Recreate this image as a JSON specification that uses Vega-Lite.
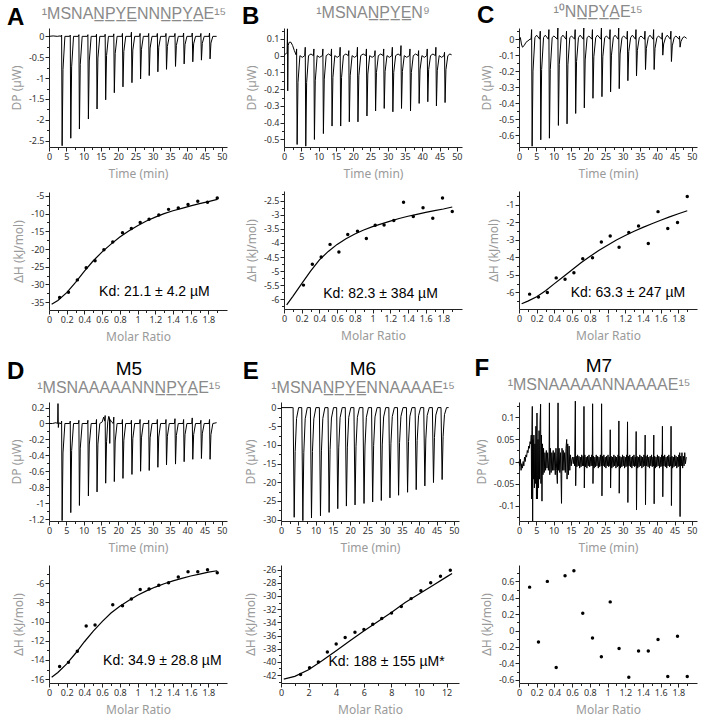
{
"$schema": "https://vega.github.io/schema/vega-lite/v6.json",
"padding": {"left": 7, "top": 4, "right": 2, "bottom": 2},
"background": "white",
"config": {
 "view": {"stroke": null},
 "axis": {"domainColor": "#222", "tickColor": "#222", "labelColor": "#333", "labelFont": "Noto Sans", "labelFontSize": 9, "labelPadding": 1, "titleFont": "Noto Sans", "titleFontSize": 12, "titleFontWeight": "normal", "titleColor": "#9a9a9a", "grid": false, "labelFlush": false, "labelOverlap": false, "tickWidth": 1, "domainWidth": 1},
 "axisX": {"titlePadding": 7},
 "axisY": {"titlePadding": 5}
},
"datasets": {
 "tA": [{"t":0,"v":0},{"t":1.2,"v":0.01},{"t":2.4,"v":0},{"t":3.2,"v":0.01},
{"t":3.5,"v":0},{"t":3.65,"v":0.03},{"t":3.8,"v":-2.62},{"t":4.05,"v":-0.79},{"t":4.6,"v":0},
{"t":6.0,"v":0},{"t":6.15,"v":0.03},{"t":6.3,"v":-2.44},{"t":6.55,"v":-0.73},{"t":7.1,"v":0},
{"t":8.5,"v":0},{"t":8.65,"v":0.04},{"t":8.8,"v":-2.22},{"t":9.05,"v":-0.67},{"t":9.6,"v":0},
{"t":11.1,"v":0},{"t":11.25,"v":0.04},{"t":11.4,"v":-1.98},{"t":11.65,"v":-0.59},{"t":12.2,"v":0},
{"t":13.6,"v":0},{"t":13.75,"v":0.05},{"t":13.9,"v":-1.74},{"t":14.15,"v":-0.52},{"t":14.7,"v":0},
{"t":16.1,"v":0},{"t":16.25,"v":0.05},{"t":16.4,"v":-1.52},{"t":16.65,"v":-0.46},{"t":17.2,"v":0},
{"t":18.6,"v":0},{"t":18.75,"v":0.06},{"t":18.9,"v":-1.35},{"t":19.15,"v":-0.41},{"t":19.7,"v":0},
{"t":21.1,"v":0},{"t":21.25,"v":0.07},{"t":21.4,"v":-1.21},{"t":21.65,"v":-0.36},{"t":22.2,"v":0},
{"t":23.7,"v":0},{"t":23.85,"v":0.1},{"t":24.0,"v":-1.11},{"t":24.25,"v":-0.33},{"t":24.8,"v":0},
{"t":26.2,"v":0},{"t":26.35,"v":0.07},{"t":26.5,"v":-1.02},{"t":26.75,"v":-0.31},{"t":27.3,"v":0},
{"t":28.7,"v":0},{"t":28.85,"v":0.07},{"t":29.0,"v":-0.94},{"t":29.25,"v":-0.28},{"t":29.8,"v":0},
{"t":31.2,"v":0},{"t":31.35,"v":0.07},{"t":31.5,"v":-0.85},{"t":31.75,"v":-0.26},{"t":32.3,"v":0},
{"t":33.7,"v":0},{"t":33.85,"v":0.07},{"t":34.0,"v":-0.79},{"t":34.25,"v":-0.24},{"t":34.8,"v":0},
{"t":36.3,"v":0},{"t":36.45,"v":0.07},{"t":36.6,"v":-0.72},{"t":36.85,"v":-0.22},{"t":37.4,"v":0},
{"t":38.8,"v":0},{"t":38.95,"v":0.08},{"t":39.1,"v":-0.66},{"t":39.35,"v":-0.2},{"t":39.9,"v":0},
{"t":41.3,"v":0},{"t":41.45,"v":0.08},{"t":41.6,"v":-0.61},{"t":41.85,"v":-0.18},{"t":42.4,"v":0},
{"t":43.8,"v":0},{"t":43.95,"v":0.07},{"t":44.1,"v":-0.57},{"t":44.35,"v":-0.17},{"t":44.9,"v":0},
{"t":46.3,"v":0},{"t":46.45,"v":0.08},{"t":46.6,"v":-0.54},{"t":46.85,"v":-0.16},{"t":47.4,"v":0},
{"t":48.5,"v":0}],
 "tB": [{"t":0,"v":0},{"t":0.5,"v":0.01},{"t":0.9,"v":0.02},{"t":1.0,"v":0.16},{"t":1.08,"v":-0.21},{"t":1.2,"v":0.06},{"t":1.5,"v":0.08},{"t":2.0,"v":0.08},{"t":2.5,"v":0.06},{"t":3.0,"v":0.03},{"t":3.4,"v":0.01},
{"t":3.5,"v":0.005},{"t":3.65,"v":0.04},{"t":3.8,"v":-0.53},{"t":4.05,"v":-0.16},{"t":4.6,"v":0},{"t":5.3,"v":-0.01},
{"t":6.0,"v":0},{"t":6.15,"v":0.05},{"t":6.3,"v":-0.54},{"t":6.55,"v":-0.16},{"t":7.1,"v":0},{"t":7.8,"v":0.01},
{"t":8.5,"v":0},{"t":8.65,"v":0.04},{"t":8.8,"v":-0.5},{"t":9.05,"v":-0.15},{"t":9.6,"v":0},{"t":10.3,"v":-0.01},
{"t":11.1,"v":0},{"t":11.25,"v":0.04},{"t":11.4,"v":-0.465},{"t":11.65,"v":-0.14},{"t":12.2,"v":0},{"t":12.9,"v":0.01},
{"t":13.6,"v":0},{"t":13.75,"v":0.04},{"t":13.9,"v":-0.42},{"t":14.15,"v":-0.13},{"t":14.7,"v":0},{"t":15.4,"v":-0.01},
{"t":16.1,"v":0},{"t":16.25,"v":0.05},{"t":16.4,"v":-0.42},{"t":16.65,"v":-0.13},{"t":17.2,"v":0},{"t":17.9,"v":0.01},
{"t":18.6,"v":0},{"t":18.75,"v":0.03},{"t":18.9,"v":-0.395},{"t":19.15,"v":-0.12},{"t":19.7,"v":0},{"t":20.4,"v":-0.01},
{"t":21.1,"v":0},{"t":21.25,"v":0.05},{"t":21.4,"v":-0.395},{"t":21.65,"v":-0.12},{"t":22.2,"v":0},{"t":22.9,"v":0.01},
{"t":23.7,"v":0},{"t":23.85,"v":0.04},{"t":24.0,"v":-0.36},{"t":24.25,"v":-0.11},{"t":24.8,"v":0},{"t":25.5,"v":-0.01},
{"t":26.2,"v":0},{"t":26.35,"v":0.03},{"t":26.5,"v":-0.33},{"t":26.75,"v":-0.1},{"t":27.3,"v":0},{"t":28.0,"v":0.01},
{"t":28.7,"v":0},{"t":28.85,"v":0.04},{"t":29.0,"v":-0.315},{"t":29.25,"v":-0.095},{"t":29.8,"v":0},{"t":30.5,"v":-0.01},
{"t":31.2,"v":0},{"t":31.35,"v":0.05},{"t":31.5,"v":-0.335},{"t":31.75,"v":-0.1},{"t":32.3,"v":0},{"t":33.0,"v":0.01},
{"t":33.7,"v":0},{"t":33.85,"v":0.06},{"t":34.0,"v":-0.315},{"t":34.25,"v":-0.095},{"t":34.8,"v":0},{"t":35.5,"v":-0.01},
{"t":36.3,"v":0},{"t":36.45,"v":0.04},{"t":36.6,"v":-0.33},{"t":36.85,"v":-0.1},{"t":37.4,"v":0},{"t":38.1,"v":0.01},
{"t":38.8,"v":0},{"t":38.95,"v":0.03},{"t":39.1,"v":-0.285},{"t":39.35,"v":-0.085},{"t":39.9,"v":0},{"t":40.6,"v":-0.01},
{"t":41.3,"v":0},{"t":41.45,"v":0.04},{"t":41.6,"v":-0.275},{"t":41.85,"v":-0.083},{"t":42.4,"v":0},{"t":43.1,"v":0.01},
{"t":43.8,"v":0},{"t":43.95,"v":0.05},{"t":44.1,"v":-0.3},{"t":44.35,"v":-0.09},{"t":44.9,"v":0},{"t":45.6,"v":-0.01},
{"t":46.3,"v":0},{"t":46.45,"v":0.02},{"t":46.6,"v":-0.28},{"t":46.85,"v":-0.084},{"t":47.4,"v":0},{"t":48.0,"v":0.01},
{"t":48.5,"v":0.005}],
 "tC": [{"t":0,"v":0},{"t":0.4,"v":0.01},{"t":0.7,"v":-0.03},{"t":1.0,"v":-0.05},{"t":1.5,"v":-0.04},{"t":2.0,"v":-0.02},{"t":2.6,"v":-0.01},{"t":3.2,"v":0},
{"t":3.5,"v":0},{"t":3.65,"v":0.06},{"t":3.8,"v":-0.67},{"t":4.05,"v":-0.2},{"t":4.6,"v":0.01},{"t":5.1,"v":0.025},
{"t":6.0,"v":0},{"t":6.15,"v":0.05},{"t":6.3,"v":-0.63},{"t":6.55,"v":-0.19},{"t":7.1,"v":0.01},{"t":7.6,"v":0.025},
{"t":8.5,"v":0},{"t":8.65,"v":0.06},{"t":8.8,"v":-0.62},{"t":9.05,"v":-0.19},{"t":9.6,"v":0.01},{"t":10.1,"v":0.02},
{"t":11.1,"v":0},{"t":11.25,"v":0.07},{"t":11.4,"v":-0.54},{"t":11.65,"v":-0.16},{"t":12.2,"v":0.01},{"t":12.7,"v":0.025},
{"t":13.6,"v":0},{"t":13.75,"v":0.05},{"t":13.9,"v":-0.53},{"t":14.15,"v":-0.16},{"t":14.7,"v":0.01},{"t":15.2,"v":0.02},
{"t":16.1,"v":0},{"t":16.25,"v":0.06},{"t":16.4,"v":-0.465},{"t":16.65,"v":-0.14},{"t":17.2,"v":0.01},{"t":17.7,"v":0.025},
{"t":18.6,"v":0},{"t":18.75,"v":0.07},{"t":18.9,"v":-0.43},{"t":19.15,"v":-0.13},{"t":19.7,"v":0.01},{"t":20.2,"v":0.02},
{"t":21.1,"v":0},{"t":21.25,"v":0.06},{"t":21.4,"v":-0.37},{"t":21.65,"v":-0.11},{"t":22.2,"v":0.01},{"t":22.7,"v":0.025},
{"t":23.7,"v":0},{"t":23.85,"v":0.07},{"t":24.0,"v":-0.36},{"t":24.25,"v":-0.11},{"t":24.8,"v":0.01},{"t":25.3,"v":0.02},
{"t":26.2,"v":0},{"t":26.35,"v":0.06},{"t":26.5,"v":-0.33},{"t":26.75,"v":-0.1},{"t":27.3,"v":0.01},{"t":27.8,"v":0.025},
{"t":28.7,"v":0},{"t":28.85,"v":0.07},{"t":29.0,"v":-0.31},{"t":29.25,"v":-0.093},{"t":29.8,"v":0.01},{"t":30.3,"v":0.02},
{"t":31.2,"v":0},{"t":31.35,"v":0.05},{"t":31.5,"v":-0.26},{"t":31.75,"v":-0.078},{"t":32.3,"v":0.01},{"t":32.8,"v":0.025},
{"t":33.7,"v":0},{"t":33.85,"v":0.06},{"t":34.0,"v":-0.23},{"t":34.25,"v":-0.07},{"t":34.8,"v":0.01},{"t":35.3,"v":0.02},
{"t":36.3,"v":0},{"t":36.45,"v":0.05},{"t":36.6,"v":-0.19},{"t":36.85,"v":-0.057},{"t":37.4,"v":0.01},{"t":37.9,"v":0.025},
{"t":38.8,"v":0},{"t":38.95,"v":0.06},{"t":39.1,"v":-0.19},{"t":39.35,"v":-0.057},{"t":39.9,"v":0.01},{"t":40.4,"v":0.02},
{"t":41.3,"v":0},{"t":41.45,"v":0.04},{"t":41.6,"v":-0.1},{"t":41.85,"v":-0.03},{"t":42.4,"v":0.01},{"t":42.9,"v":0.025},
{"t":43.8,"v":0},{"t":43.95,"v":0.05},{"t":44.1,"v":-0.14},{"t":44.35,"v":-0.042},{"t":44.9,"v":0.01},{"t":45.4,"v":0.02},
{"t":46.3,"v":0},{"t":46.45,"v":0.02},{"t":46.6,"v":-0.05},{"t":46.85,"v":-0.015},{"t":47.4,"v":0.01},{"t":47.9,"v":0.015},
{"t":48.5,"v":0.005}],
 "tD": [{"t":0,"v":0},{"t":1.0,"v":0},{"t":2.0,"v":0.01},{"t":2.5,"v":0},{"t":2.6,"v":0.25},{"t":2.7,"v":-0.05},{"t":2.85,"v":0.01},{"t":3.2,"v":0},
{"t":3.5,"v":0},{"t":3.65,"v":0.03},{"t":3.8,"v":-1.22},{"t":4.05,"v":-0.37},{"t":4.6,"v":0},
{"t":6.0,"v":0},{"t":6.15,"v":0.03},{"t":6.3,"v":-1.12},{"t":6.55,"v":-0.34},{"t":7.1,"v":0},
{"t":8.5,"v":0},{"t":8.65,"v":0.04},{"t":8.8,"v":-1.03},{"t":9.05,"v":-0.31},{"t":9.6,"v":0},
{"t":11.1,"v":0},{"t":11.25,"v":0.04},{"t":11.4,"v":-0.91},{"t":11.65,"v":-0.27},{"t":12.2,"v":0},
{"t":13.6,"v":0},{"t":13.75,"v":0.05},{"t":13.9,"v":-0.86},{"t":14.15,"v":-0.26},{"t":14.7,"v":0},
{"t":15.4,"v":0.02},{"t":15.8,"v":0.08},{"t":16.0,"v":0.05},
{"t":16.1,"v":0.03},{"t":16.25,"v":0.1},{"t":16.4,"v":-0.75},{"t":16.65,"v":-0.23},{"t":17.0,"v":0.02},{"t":17.3,"v":0.09},{"t":17.5,"v":0.07},{"t":17.58,"v":-0.25},{"t":17.68,"v":0.05},{"t":18.1,"v":0.02},
{"t":18.6,"v":0},{"t":18.75,"v":0.08},{"t":18.9,"v":-0.73},{"t":19.15,"v":-0.22},{"t":19.7,"v":0},
{"t":21.1,"v":0},{"t":21.25,"v":0.05},{"t":21.4,"v":-0.69},{"t":21.65,"v":-0.21},{"t":22.2,"v":0},
{"t":23.7,"v":0},{"t":23.85,"v":0.04},{"t":24.0,"v":-0.64},{"t":24.25,"v":-0.19},{"t":24.8,"v":0},
{"t":26.2,"v":0},{"t":26.35,"v":0.05},{"t":26.5,"v":-0.6},{"t":26.75,"v":-0.18},{"t":27.3,"v":0},
{"t":28.7,"v":0},{"t":28.85,"v":0.04},{"t":29.0,"v":-0.59},{"t":29.25,"v":-0.18},{"t":29.8,"v":0},
{"t":31.2,"v":0},{"t":31.35,"v":0.05},{"t":31.5,"v":-0.55},{"t":31.75,"v":-0.17},{"t":32.3,"v":0},
{"t":33.7,"v":0},{"t":33.85,"v":0.05},{"t":34.0,"v":-0.52},{"t":34.25,"v":-0.16},{"t":34.8,"v":0},
{"t":36.3,"v":0},{"t":36.45,"v":0.06},{"t":36.6,"v":-0.51},{"t":36.85,"v":-0.15},{"t":37.4,"v":0},
{"t":38.8,"v":0},{"t":38.95,"v":0.05},{"t":39.1,"v":-0.48},{"t":39.35,"v":-0.14},{"t":39.9,"v":0},
{"t":41.3,"v":0},{"t":41.45,"v":0.07},{"t":41.6,"v":-0.45},{"t":41.85,"v":-0.14},{"t":42.4,"v":0},
{"t":43.8,"v":0},{"t":43.95,"v":0.04},{"t":44.1,"v":-0.44},{"t":44.35,"v":-0.13},{"t":44.9,"v":0},
{"t":46.3,"v":0},{"t":46.45,"v":0.05},{"t":46.6,"v":-0.45},{"t":46.85,"v":-0.14},{"t":47.4,"v":0},
{"t":48.5,"v":0.01}],
 "tE": [{"t":0,"v":0},{"t":3.4,"v":0},
{"t":3.5,"v":0},{"t":3.82,"v":-29.4},{"t":4.1,"v":-11.8},{"t":4.5,"v":-2.9},{"t":5.1,"v":0},
{"t":6.0,"v":0},{"t":6.32,"v":-30.3},{"t":6.6,"v":-12.1},{"t":7.0,"v":-3.0},{"t":7.6,"v":0},
{"t":8.5,"v":0},{"t":8.82,"v":-29.6},{"t":9.1,"v":-11.8},{"t":9.5,"v":-3.0},{"t":10.1,"v":0},
{"t":11.1,"v":0},{"t":11.42,"v":-29.0},{"t":11.7,"v":-11.6},{"t":12.1,"v":-2.9},{"t":12.7,"v":0},
{"t":13.6,"v":0},{"t":13.92,"v":-28.1},{"t":14.2,"v":-11.2},{"t":14.6,"v":-2.8},{"t":15.2,"v":0},
{"t":16.1,"v":0},{"t":16.42,"v":-27.1},{"t":16.7,"v":-10.8},{"t":17.1,"v":-2.7},{"t":17.7,"v":0},
{"t":18.6,"v":0},{"t":18.92,"v":-26.4},{"t":19.2,"v":-10.6},{"t":19.6,"v":-2.6},{"t":20.2,"v":0},
{"t":21.1,"v":0},{"t":21.42,"v":-26.1},{"t":21.7,"v":-10.4},{"t":22.1,"v":-2.6},{"t":22.7,"v":0},
{"t":23.7,"v":0},{"t":24.02,"v":-25.7},{"t":24.3,"v":-10.3},{"t":24.7,"v":-2.6},{"t":25.3,"v":0},
{"t":26.2,"v":0},{"t":26.52,"v":-25.3},{"t":26.8,"v":-10.1},{"t":27.2,"v":-2.5},{"t":27.8,"v":0},
{"t":28.7,"v":0},{"t":29.02,"v":-24.9},{"t":29.3,"v":-10.0},{"t":29.7,"v":-2.5},{"t":30.3,"v":0},
{"t":31.2,"v":0},{"t":31.52,"v":-24.2},{"t":31.8,"v":-9.7},{"t":32.2,"v":-2.4},{"t":32.8,"v":0},
{"t":33.7,"v":0},{"t":34.02,"v":-23.5},{"t":34.3,"v":-9.4},{"t":34.7,"v":-2.35},{"t":35.3,"v":0},
{"t":36.3,"v":0},{"t":36.62,"v":-22.7},{"t":36.9,"v":-9.1},{"t":37.3,"v":-2.3},{"t":37.9,"v":0},
{"t":38.8,"v":0},{"t":39.12,"v":-22.0},{"t":39.4,"v":-8.8},{"t":39.8,"v":-2.2},{"t":40.4,"v":0},
{"t":41.3,"v":0},{"t":41.62,"v":-21.0},{"t":41.9,"v":-8.4},{"t":42.3,"v":-2.1},{"t":42.9,"v":0},
{"t":43.8,"v":0},{"t":44.12,"v":-20.1},{"t":44.4,"v":-8.0},{"t":44.8,"v":-2.0},{"t":45.4,"v":0},
{"t":46.3,"v":0},{"t":46.62,"v":-19.3},{"t":46.9,"v":-7.7},{"t":47.3,"v":-1.9},{"t":47.9,"v":0},
{"t":48.5,"v":0}],
 "tF": [{"t":0,"v":0},{"t":0.2,"v":-0.01},{"t":0.4,"v":0.005},{"t":0.6,"v":-0.02},{"t":0.8,"v":-0.005},{"t":1.0,"v":-0.015},{"t":1.2,"v":0},{"t":1.4,"v":-0.01},{"t":1.6,"v":0.01},{"t":1.8,"v":0},{"t":2.0,"v":0.015},{"t":2.2,"v":0.01},{"t":2.4,"v":0.025},{"t":2.6,"v":0.02},{"t":2.8,"v":0.035},{"t":3.0,"v":0.03},{"t":3.2,"v":0.045},{"t":3.4,"v":0.04},{"t":3.55,"v":0.06},{"t":3.65,"v":-0.085},{"t":3.75,"v":0.07},{"t":3.85,"v":0.125},{"t":3.95,"v":-0.135},{"t":4.05,"v":0.05},{"t":4.15,"v":-0.04},{"t":4.3,"v":0.06},{"t":4.45,"v":-0.06},{"t":4.6,"v":0.04},{"t":4.75,"v":-0.05},{"t":4.9,"v":0.08},{"t":5.05,"v":-0.085},{"t":5.2,"v":0.11},{"t":5.35,"v":-0.085},{"t":5.5,"v":0.05},{"t":5.65,"v":-0.06},{"t":5.8,"v":0.07},{"t":5.95,"v":-0.04},{"t":6.1,"v":0.09},{"t":6.25,"v":0.13},{"t":6.35,"v":-0.05},{"t":6.5,"v":0.06},{"t":6.65,"v":-0.09},{"t":6.8,"v":0.04},{"t":6.95,"v":-0.03},{"t":7.1,"v":0.03},{"t":7.3,"v":-0.025},{"t":7.5,"v":0.02},{"t":7.7,"v":-0.02},{"t":7.9,"v":0.025},{"t":8.1,"v":-0.015},{"t":8.3,"v":0.02},{"t":8.5,"v":-0.02},{"t":8.7,"v":0.01},{"t":8.8,"v":0.133},{"t":8.9,"v":-0.03},{"t":9.1,"v":0.03},{"t":9.3,"v":-0.025},{"t":9.5,"v":0.02},{"t":9.7,"v":-0.02},{"t":9.9,"v":0.025},{"t":10.1,"v":-0.02},{"t":10.3,"v":0.02},{"t":10.5,"v":-0.03},{"t":10.7,"v":0.03},{"t":10.9,"v":-0.02},{"t":11.1,"v":-0.05},{"t":11.3,"v":0.133},{"t":11.4,"v":-0.02},{"t":11.6,"v":0.03},{"t":11.8,"v":-0.025},{"t":12.0,"v":0.02},{"t":12.15,"v":-0.03},{"t":12.3,"v":-0.095},{"t":12.45,"v":0.03},{"t":12.6,"v":-0.02},{"t":12.8,"v":0.025},{"t":13.0,"v":-0.02},{"t":13.2,"v":0.02},{"t":13.4,"v":-0.025},{"t":13.6,"v":0.03},{"t":13.8,"v":0.05},{"t":13.9,"v":-0.04},{"t":14.1,"v":0.04},{"t":14.3,"v":-0.03},{"t":14.5,"v":0.035},{"t":14.7,"v":-0.02},{"t":14.9,"v":0.015},{"t":15.1,"v":-0.01},{"t":15.3,"v":0.005},{"t":15.5,"v":0.01},{"t":15.7,"v":-0.005},{"t":15.9,"v":0.01},{"t":16.1,"v":-0.01},
{"t":16.3,"v":0.137},{"t":16.4,"v":-0.055},{"t":16.55,"v":0.012},{"t":16.75,"v":-0.012},{"t":16.95,"v":0.015},{"t":17.15,"v":-0.01},{"t":17.35,"v":0.012},{"t":17.55,"v":-0.015},{"t":17.75,"v":0.01},{"t":17.95,"v":-0.012},{"t":18.15,"v":0.015},{"t":18.35,"v":-0.01},{"t":18.55,"v":0.012},{"t":18.7,"v":-0.01},
{"t":18.8,"v":0.125},{"t":18.9,"v":-0.06},{"t":19.05,"v":0.015},{"t":19.25,"v":-0.012},{"t":19.45,"v":0.01},{"t":19.65,"v":-0.015},{"t":19.85,"v":0.012},{"t":20.05,"v":-0.01},{"t":20.25,"v":0.015},{"t":20.45,"v":-0.012},{"t":20.65,"v":0.01},{"t":20.85,"v":-0.01},{"t":21.05,"v":0.015},{"t":21.2,"v":-0.01},
{"t":21.3,"v":0.131},{"t":21.4,"v":-0.05},{"t":21.55,"v":0.012},{"t":21.75,"v":-0.015},{"t":21.95,"v":0.01},{"t":22.15,"v":-0.012},{"t":22.35,"v":0.015},{"t":22.55,"v":-0.01},{"t":22.75,"v":0.012},{"t":22.95,"v":-0.015},{"t":23.15,"v":0.01},{"t":23.35,"v":-0.012},{"t":23.55,"v":0.015},{"t":23.8,"v":-0.01},
{"t":23.9,"v":0.131},{"t":24.0,"v":-0.078},{"t":24.15,"v":0.012},{"t":24.35,"v":-0.01},{"t":24.55,"v":0.015},{"t":24.75,"v":-0.012},{"t":24.95,"v":0.01},{"t":25.15,"v":-0.015},{"t":25.35,"v":0.012},{"t":25.55,"v":-0.01},{"t":25.75,"v":0.015},{"t":25.95,"v":-0.012},{"t":26.15,"v":0.01},{"t":26.3,"v":-0.01},
{"t":26.4,"v":0.072},{"t":26.5,"v":-0.06},{"t":26.65,"v":0.012},{"t":26.85,"v":-0.015},{"t":27.05,"v":0.01},{"t":27.25,"v":-0.012},{"t":27.45,"v":0.015},{"t":27.65,"v":-0.01},{"t":27.85,"v":0.012},{"t":28.05,"v":-0.015},{"t":28.25,"v":0.01},{"t":28.45,"v":-0.012},{"t":28.65,"v":0.015},{"t":28.8,"v":-0.01},
{"t":28.9,"v":0.092},{"t":29.0,"v":-0.072},{"t":29.15,"v":0.012},{"t":29.35,"v":-0.015},{"t":29.55,"v":0.01},{"t":29.75,"v":-0.012},{"t":29.95,"v":0.015},{"t":30.15,"v":-0.01},{"t":30.35,"v":0.012},{"t":30.55,"v":-0.015},{"t":30.75,"v":0.01},{"t":30.95,"v":-0.012},{"t":31.15,"v":0.015},{"t":31.3,"v":-0.01},
{"t":31.4,"v":0.09},{"t":31.5,"v":-0.093},{"t":31.65,"v":0.012},{"t":31.85,"v":-0.01},{"t":32.05,"v":0.015},{"t":32.25,"v":-0.012},{"t":32.45,"v":0.01},{"t":32.65,"v":-0.015},{"t":32.85,"v":0.012},{"t":33.05,"v":-0.01},{"t":33.25,"v":0.015},{"t":33.45,"v":-0.012},{"t":33.65,"v":0.01},{"t":33.8,"v":-0.01},
{"t":33.9,"v":0.068},{"t":34.0,"v":-0.11},{"t":34.15,"v":0.012},{"t":34.35,"v":-0.015},{"t":34.55,"v":0.01},{"t":34.75,"v":-0.012},{"t":34.95,"v":0.015},{"t":35.15,"v":-0.01},{"t":35.35,"v":0.012},{"t":35.55,"v":-0.015},{"t":35.75,"v":0.01},{"t":35.95,"v":-0.012},{"t":36.15,"v":0.015},{"t":36.4,"v":-0.01},
{"t":36.5,"v":0.06},{"t":36.6,"v":-0.098},{"t":36.75,"v":0.012},{"t":36.95,"v":-0.01},{"t":37.15,"v":0.015},{"t":37.35,"v":-0.012},{"t":37.55,"v":0.01},{"t":37.75,"v":-0.015},{"t":37.95,"v":0.012},{"t":38.15,"v":-0.01},{"t":38.35,"v":0.015},{"t":38.55,"v":-0.012},{"t":38.75,"v":0.01},{"t":38.9,"v":-0.01},
{"t":39.0,"v":0.06},{"t":39.1,"v":-0.096},{"t":39.25,"v":0.012},{"t":39.45,"v":-0.015},{"t":39.65,"v":0.01},{"t":39.85,"v":-0.012},{"t":40.05,"v":0.015},{"t":40.25,"v":-0.01},{"t":40.45,"v":0.012},{"t":40.65,"v":-0.015},{"t":40.85,"v":0.01},{"t":41.05,"v":-0.012},{"t":41.25,"v":0.015},{"t":41.4,"v":-0.01},
{"t":41.5,"v":0.08},{"t":41.6,"v":-0.08},{"t":41.75,"v":0.012},{"t":41.95,"v":-0.01},{"t":42.15,"v":0.015},{"t":42.35,"v":-0.012},{"t":42.55,"v":0.01},{"t":42.75,"v":-0.015},{"t":42.95,"v":0.012},{"t":43.15,"v":-0.01},{"t":43.35,"v":0.015},{"t":43.55,"v":-0.012},{"t":43.75,"v":0.01},{"t":43.9,"v":-0.01},
{"t":44.0,"v":0.08},{"t":44.1,"v":-0.1},{"t":44.25,"v":0.012},{"t":44.45,"v":-0.015},{"t":44.65,"v":0.01},{"t":44.85,"v":-0.012},{"t":45.05,"v":0.015},{"t":45.25,"v":-0.01},{"t":45.45,"v":0.012},{"t":45.65,"v":-0.015},{"t":45.85,"v":0.01},{"t":46.05,"v":-0.012},{"t":46.25,"v":0.015},{"t":46.4,"v":-0.01},
{"t":46.5,"v":0.02},{"t":46.6,"v":-0.125},{"t":46.75,"v":0.012},{"t":46.95,"v":-0.01},{"t":47.15,"v":0.02},{"t":47.35,"v":-0.015},{"t":47.55,"v":0.012},{"t":47.75,"v":-0.01},{"t":47.95,"v":0.02},{"t":48.15,"v":-0.005},{"t":48.4,"v":0.01}],
 "pA": [{"x":0.12,"y":-33.7},{"x":0.22,"y":-32.2},{"x":0.32,"y":-28.7},{"x":0.42,"y":-25.3},{"x":0.52,"y":-23.3},{"x":0.62,"y":-20.2},{"x":0.72,"y":-18.0},{"x":0.83,"y":-15.4},{"x":0.93,"y":-14.2},{"x":1.03,"y":-12.5},{"x":1.13,"y":-11.6},{"x":1.24,"y":-10.4},{"x":1.35,"y":-8.8},{"x":1.46,"y":-8.4},{"x":1.57,"y":-7.4},{"x":1.68,"y":-6.5},{"x":1.79,"y":-6.8},{"x":1.9,"y":-5.6}],
 "cA": [{"x":0.03,"y":-35.6},{"x":0.1,"y":-34.5},{"x":0.2,"y":-32.3},{"x":0.3,"y":-29.4},{"x":0.4,"y":-26.2},{"x":0.5,"y":-23.3},{"x":0.6,"y":-20.8},{"x":0.7,"y":-18.6},{"x":0.8,"y":-16.6},{"x":0.9,"y":-14.9},{"x":1.0,"y":-13.4},{"x":1.1,"y":-12.1},{"x":1.2,"y":-11.0},{"x":1.3,"y":-10.0},{"x":1.4,"y":-9.2},{"x":1.5,"y":-8.5},{"x":1.6,"y":-7.8},{"x":1.7,"y":-7.2},{"x":1.8,"y":-6.6},{"x":1.9,"y":-6.0}],
 "pB": [{"x":0.22,"y":-5.5},{"x":0.32,"y":-4.76},{"x":0.42,"y":-4.5},{"x":0.52,"y":-4.05},{"x":0.62,"y":-4.32},{"x":0.72,"y":-3.7},{"x":0.83,"y":-3.58},{"x":0.93,"y":-3.84},{"x":1.03,"y":-3.37},{"x":1.13,"y":-3.36},{"x":1.24,"y":-3.2},{"x":1.35,"y":-2.55},{"x":1.46,"y":-3.06},{"x":1.57,"y":-2.75},{"x":1.68,"y":-3.12},{"x":1.79,"y":-2.4},{"x":1.9,"y":-2.88}],
 "cB": [{"x":0.03,"y":-6.2},{"x":0.1,"y":-5.9},{"x":0.2,"y":-5.45},{"x":0.3,"y":-5.0},{"x":0.4,"y":-4.6},{"x":0.5,"y":-4.3},{"x":0.6,"y":-4.05},{"x":0.7,"y":-3.85},{"x":0.8,"y":-3.68},{"x":0.9,"y":-3.54},{"x":1.0,"y":-3.42},{"x":1.1,"y":-3.32},{"x":1.2,"y":-3.22},{"x":1.3,"y":-3.13},{"x":1.4,"y":-3.05},{"x":1.5,"y":-2.98},{"x":1.6,"y":-2.91},{"x":1.7,"y":-2.85},{"x":1.8,"y":-2.79},{"x":1.9,"y":-2.72}],
 "pC": [{"x":0.12,"y":-6.1},{"x":0.22,"y":-6.27},{"x":0.32,"y":-6.0},{"x":0.42,"y":-5.17},{"x":0.52,"y":-5.25},{"x":0.62,"y":-4.88},{"x":0.72,"y":-4.08},{"x":0.83,"y":-4.02},{"x":0.93,"y":-3.12},{"x":1.03,"y":-2.77},{"x":1.13,"y":-3.42},{"x":1.24,"y":-2.58},{"x":1.35,"y":-2.2},{"x":1.46,"y":-3.2},{"x":1.57,"y":-1.38},{"x":1.68,"y":-2.35},{"x":1.79,"y":-2.0},{"x":1.9,"y":-0.52}],
 "cC": [{"x":0.03,"y":-6.65},{"x":0.1,"y":-6.5},{"x":0.2,"y":-6.25},{"x":0.3,"y":-5.9},{"x":0.4,"y":-5.5},{"x":0.5,"y":-5.1},{"x":0.6,"y":-4.7},{"x":0.7,"y":-4.3},{"x":0.8,"y":-3.95},{"x":0.9,"y":-3.6},{"x":1.0,"y":-3.3},{"x":1.1,"y":-3.0},{"x":1.2,"y":-2.75},{"x":1.3,"y":-2.5},{"x":1.4,"y":-2.28},{"x":1.5,"y":-2.07},{"x":1.6,"y":-1.87},{"x":1.7,"y":-1.68},{"x":1.8,"y":-1.5},{"x":1.9,"y":-1.33}],
 "pD": [{"x":0.12,"y":-14.67},{"x":0.22,"y":-14.25},{"x":0.32,"y":-13.1},{"x":0.42,"y":-10.45},{"x":0.52,"y":-10.35},{"x":0.72,"y":-8.25},{"x":0.83,"y":-8.35},{"x":0.93,"y":-7.65},{"x":1.03,"y":-6.65},{"x":1.13,"y":-6.6},{"x":1.24,"y":-6.2},{"x":1.35,"y":-5.95},{"x":1.46,"y":-5.35},{"x":1.57,"y":-4.8},{"x":1.68,"y":-4.8},{"x":1.79,"y":-4.6},{"x":1.9,"y":-4.9}],
 "cD": [{"x":0.03,"y":-15.8},{"x":0.1,"y":-15.3},{"x":0.2,"y":-14.4},{"x":0.3,"y":-13.3},{"x":0.4,"y":-12.1},{"x":0.5,"y":-11.0},{"x":0.6,"y":-10.0},{"x":0.7,"y":-9.1},{"x":0.8,"y":-8.4},{"x":0.9,"y":-7.8},{"x":1.0,"y":-7.25},{"x":1.1,"y":-6.8},{"x":1.2,"y":-6.4},{"x":1.3,"y":-6.05},{"x":1.4,"y":-5.75},{"x":1.5,"y":-5.5},{"x":1.6,"y":-5.25},{"x":1.7,"y":-5.05},{"x":1.8,"y":-4.85},{"x":1.9,"y":-4.7}],
 "pE": [{"x":1.42,"y":-41.9},{"x":2.07,"y":-40.9},{"x":2.71,"y":-40.0},{"x":3.36,"y":-38.5},{"x":4.0,"y":-37.3},{"x":4.65,"y":-36.3},{"x":5.36,"y":-35.5},{"x":6.01,"y":-35.1},{"x":6.65,"y":-34.3},{"x":7.3,"y":-33.4},{"x":8.01,"y":-32.6},{"x":8.72,"y":-31.6},{"x":9.43,"y":-30.4},{"x":10.14,"y":-29.2},{"x":10.85,"y":-28.0},{"x":11.56,"y":-27.0},{"x":12.27,"y":-26.1}],
 "cE": [{"x":0.2,"y":-42.6},{"x":1,"y":-42.2},{"x":2,"y":-41.2},{"x":3,"y":-39.8},{"x":4,"y":-38.3},{"x":5,"y":-36.8},{"x":6,"y":-35.3},{"x":7,"y":-33.9},{"x":8,"y":-32.5},{"x":9,"y":-31.0},{"x":10,"y":-29.7},{"x":11,"y":-28.4},{"x":12,"y":-27.1},{"x":12.4,"y":-26.6}],
 "pF": [{"x":0.12,"y":0.53},{"x":0.22,"y":-0.14},{"x":0.32,"y":0.6},{"x":0.42,"y":-0.45},{"x":0.52,"y":0.67},{"x":0.62,"y":0.73},{"x":0.72,"y":0.21},{"x":0.83,"y":-0.09},{"x":0.93,"y":-0.32},{"x":1.03,"y":0.35},{"x":1.13,"y":-0.22},{"x":1.24,"y":-0.57},{"x":1.35,"y":-0.25},{"x":1.46,"y":-0.25},{"x":1.57,"y":-0.11},{"x":1.68,"y":-0.56},{"x":1.79,"y":-0.07},{"x":1.9,"y":-0.56}]
},
"spacing": 15,
"vconcat": [
 {"spacing": 15, "hconcat": [
  {"title": {"text": "A", "orient": "left", "anchor": "end", "frame": "bounds", "angle": 0, "align": "left", "baseline": "top", "fontSize": 24, "fontWeight": "bold", "color": "black", "font": "Liberation Sans", "offset": -14},
   "spacing": 12,
   "vconcat": [
    {"title": {"text": "\u00b9MSNAN\u0332P\u0332Y\u0332E\u0332NNN\u0332P\u0332Y\u0332A\u0332E\u00b9\u2075", "font": "Liberation Sans", "fontSize": 16, "fontWeight": "normal", "color": "#8a8a8a", "anchor": "middle", "offset": 6, "dx": -4},
     "width": 178, "height": 119, "data": {"name": "tA"},
     "resolve": {"axis": {"x": "independent", "y": "independent"}},
     "layer": [
      {"mark": {"type": "line", "color": "black", "strokeWidth": 1},
       "encoding": {
        "x": {"field": "t", "type": "quantitative", "scale": {"domain": [0, 51.5], "nice": false, "zero": false}, "axis": {"title": "Time (min)", "values": [0,5,10,15,20,25,30,35,40,45,50], "labelExpr": "'' + datum.value", "tickSize": 4}},
        "y": {"field": "v", "type": "quantitative", "scale": {"domain": [-2.65, 0.2], "nice": false, "zero": false}, "axis": {"title": "DP (\u00b5W)", "values": [0,-0.5,-1,-1.5,-2,-2.5], "labelExpr": "'' + datum.value", "tickSize": 4}}}},
      {"mark": {"type": "line", "color": "black", "opacity": 0},
       "encoding": {
        "x": {"field": "t", "type": "quantitative", "axis": {"orient": "bottom", "title": null, "labels": false, "domain": false, "values": [2.5,7.5,12.5,17.5,22.5,27.5,32.5,37.5,42.5,47.5], "tickSize": 2.5}},
        "y": {"field": "v", "type": "quantitative", "axis": {"orient": "left", "title": null, "labels": false, "domain": false, "values": [-0.25,-0.75,-1.25,-1.75,-2.25], "tickSize": 2.5}}}}
     ]},
    {"width": 178, "height": 118,
     "resolve": {"axis": {"x": "independent", "y": "independent"}},
     "layer": [
      {"data": {"name": "cA"}, "mark": {"type": "line", "color": "black", "strokeWidth": 1.2},
       "encoding": {
        "x": {"field": "x", "type": "quantitative", "scale": {"domain": [0, 2.01], "nice": false, "zero": false}, "axis": {"title": "Molar Ratio", "values": [0,0.2,0.4,0.6,0.8,1,1.2,1.4,1.6,1.8], "labelExpr": "'' + datum.value", "tickSize": 4}},
        "y": {"field": "y", "type": "quantitative", "scale": {"domain": [-37.2, -3.9], "nice": false, "zero": false}, "axis": {"title": "\u0394H (kJ/mol)", "values": [-5,-10,-15,-20,-25,-30,-35], "labelExpr": "'' + datum.value", "tickSize": 4}}}},
      {"data": {"name": "pA"}, "mark": {"type": "circle", "color": "black", "size": 12, "opacity": 1},
       "encoding": {
        "x": {"field": "x", "type": "quantitative", "axis": {"orient": "bottom", "title": null, "labels": false, "domain": false, "values": [0.1,0.3,0.5,0.7,0.9,1.1,1.3,1.5,1.7,1.9], "tickSize": 2.5}},
        "y": {"field": "y", "type": "quantitative", "axis": {"orient": "left", "title": null, "labels": false, "domain": false, "values": [-7.5,-12.5,-17.5,-22.5,-27.5,-32.5], "tickSize": 2.5}}}},
      {"data": {"values": [{"k": "Kd: 21.1 \u00b1 4.2 \u00b5M"}]}, "mark": {"type": "text", "font": "Liberation Sans", "fontSize": 14, "color": "black"},
       "encoding": {"x": {"datum": 1.19, "type": "quantitative", "axis": null}, "y": {"datum": -32.2, "type": "quantitative", "axis": null}, "text": {"field": "k", "type": "nominal"}}}
     ]}
   ]},
  {"title": {"text": "B", "orient": "left", "anchor": "end", "frame": "bounds", "angle": 0, "align": "left", "baseline": "top", "fontSize": 24, "fontWeight": "bold", "color": "black", "font": "Liberation Sans", "offset": -14},
   "spacing": 12,
   "vconcat": [
    {"title": {"text": "\u00b9MSNAN\u0332P\u0332Y\u0332E\u0332N\u2079", "font": "Liberation Sans", "fontSize": 16, "fontWeight": "normal", "color": "#8a8a8a", "anchor": "middle", "offset": 6},
     "width": 178, "height": 119, "data": {"name": "tB"},
     "resolve": {"axis": {"x": "independent", "y": "independent"}},
     "layer": [
      {"mark": {"type": "line", "color": "black", "strokeWidth": 1},
       "encoding": {
        "x": {"field": "t", "type": "quantitative", "scale": {"domain": [0, 51.5], "nice": false, "zero": false}, "axis": {"title": "Time (min)", "values": [0,5,10,15,20,25,30,35,40,45,50], "labelExpr": "'' + datum.value", "tickSize": 4}},
        "y": {"field": "v", "type": "quantitative", "scale": {"domain": [-0.545, 0.165], "nice": false, "zero": false}, "axis": {"title": "DP (\u00b5W)", "values": [0.1,0,-0.1,-0.2,-0.3,-0.4,-0.5], "labelExpr": "'' + datum.value", "tickSize": 4}}}},
      {"mark": {"type": "line", "color": "black", "opacity": 0},
       "encoding": {
        "x": {"field": "t", "type": "quantitative", "axis": {"orient": "bottom", "title": null, "labels": false, "domain": false, "values": [2.5,7.5,12.5,17.5,22.5,27.5,32.5,37.5,42.5,47.5], "tickSize": 2.5}},
        "y": {"field": "v", "type": "quantitative", "axis": {"orient": "left", "title": null, "labels": false, "domain": false, "values": [0.15,0.05,-0.05,-0.15,-0.25,-0.35,-0.45], "tickSize": 2.5}}}}
     ]},
    {"width": 178, "height": 118,
     "resolve": {"axis": {"x": "independent", "y": "independent"}},
     "layer": [
      {"data": {"name": "cB"}, "mark": {"type": "line", "color": "black", "strokeWidth": 1.2},
       "encoding": {
        "x": {"field": "x", "type": "quantitative", "scale": {"domain": [0, 2.01], "nice": false, "zero": false}, "axis": {"title": "Molar Ratio", "values": [0,0.2,0.4,0.6,0.8,1,1.2,1.4,1.6,1.8], "labelExpr": "'' + datum.value", "tickSize": 4}},
        "y": {"field": "y", "type": "quantitative", "scale": {"domain": [-6.35, -2.15], "nice": false, "zero": false}, "axis": {"title": "\u0394H (kJ/mol)", "values": [-2.5,-3,-3.5,-4,-4.5,-5,-5.5,-6], "labelExpr": "'' + datum.value", "tickSize": 4}}}},
      {"data": {"name": "pB"}, "mark": {"type": "circle", "color": "black", "size": 12, "opacity": 1},
       "encoding": {
        "x": {"field": "x", "type": "quantitative", "axis": {"orient": "bottom", "title": null, "labels": false, "domain": false, "values": [0.1,0.3,0.5,0.7,0.9,1.1,1.3,1.5,1.7,1.9], "tickSize": 2.5}},
        "y": {"field": "y", "type": "quantitative", "axis": {"orient": "left", "title": null, "labels": false, "domain": false, "values": [-2.25,-2.75,-3.25,-3.75,-4.25,-4.75,-5.25,-5.75,-6.25], "tickSize": 2.5}}}},
      {"data": {"values": [{"k": "Kd: 82.3 \u00b1 384 \u00b5M"}]}, "mark": {"type": "text", "font": "Liberation Sans", "fontSize": 14, "color": "black"},
       "encoding": {"x": {"datum": 1.09, "type": "quantitative", "axis": null}, "y": {"datum": -5.8, "type": "quantitative", "axis": null}, "text": {"field": "k", "type": "nominal"}}}
     ]}
   ]},
  {"title": {"text": "C", "orient": "left", "anchor": "end", "frame": "bounds", "angle": 0, "align": "left", "baseline": "top", "fontSize": 24, "fontWeight": "bold", "color": "black", "font": "Liberation Sans", "offset": -14},
   "spacing": 12,
   "vconcat": [
    {"title": {"text": "\u00b9\u2070NN\u0332P\u0332Y\u0332A\u0332E\u00b9\u2075", "font": "Liberation Sans", "fontSize": 16, "fontWeight": "normal", "color": "#8a8a8a", "anchor": "middle", "offset": 6, "dx": -10},
     "width": 178, "height": 119, "data": {"name": "tC"},
     "resolve": {"axis": {"x": "independent", "y": "independent"}},
     "layer": [
      {"mark": {"type": "line", "color": "black", "strokeWidth": 1},
       "encoding": {
        "x": {"field": "t", "type": "quantitative", "scale": {"domain": [0, 51.5], "nice": false, "zero": false}, "axis": {"title": "Time (min)", "values": [0,5,10,15,20,25,30,35,40,45,50], "labelExpr": "'' + datum.value", "tickSize": 4}},
        "y": {"field": "v", "type": "quantitative", "scale": {"domain": [-0.675, 0.07], "nice": false, "zero": false}, "axis": {"title": "DP (\u00b5W)", "values": [0,-0.1,-0.2,-0.3,-0.4,-0.5,-0.6], "labelExpr": "'' + datum.value", "tickSize": 4}}}},
      {"mark": {"type": "line", "color": "black", "opacity": 0},
       "encoding": {
        "x": {"field": "t", "type": "quantitative", "axis": {"orient": "bottom", "title": null, "labels": false, "domain": false, "values": [2.5,7.5,12.5,17.5,22.5,27.5,32.5,37.5,42.5,47.5], "tickSize": 2.5}},
        "y": {"field": "v", "type": "quantitative", "axis": {"orient": "left", "title": null, "labels": false, "domain": false, "values": [0.05,-0.05,-0.15,-0.25,-0.35,-0.45,-0.55,-0.65], "tickSize": 2.5}}}}
     ]},
    {"width": 178, "height": 118,
     "resolve": {"axis": {"x": "independent", "y": "independent"}},
     "layer": [
      {"data": {"name": "cC"}, "mark": {"type": "line", "color": "black", "strokeWidth": 1.2},
       "encoding": {
        "x": {"field": "x", "type": "quantitative", "scale": {"domain": [0, 2.01], "nice": false, "zero": false}, "axis": {"title": "Molar Ratio", "values": [0,0.2,0.4,0.6,0.8,1,1.2,1.4,1.6,1.8], "labelExpr": "'' + datum.value", "tickSize": 4}},
        "y": {"field": "y", "type": "quantitative", "scale": {"domain": [-6.95, -0.2], "nice": false, "zero": false}, "axis": {"title": "\u0394H (kJ/mol)", "values": [-1,-2,-3,-4,-5,-6], "labelExpr": "'' + datum.value", "tickSize": 4}}}},
      {"data": {"name": "pC"}, "mark": {"type": "circle", "color": "black", "size": 12, "opacity": 1},
       "encoding": {
        "x": {"field": "x", "type": "quantitative", "axis": {"orient": "bottom", "title": null, "labels": false, "domain": false, "values": [0.1,0.3,0.5,0.7,0.9,1.1,1.3,1.5,1.7,1.9], "tickSize": 2.5}},
        "y": {"field": "y", "type": "quantitative", "axis": {"orient": "left", "title": null, "labels": false, "domain": false, "values": [-0.5,-1.5,-2.5,-3.5,-4.5,-5.5,-6.5], "tickSize": 2.5}}}},
      {"data": {"values": [{"k": "Kd: 63.3 \u00b1 247 \u00b5M"}]}, "mark": {"type": "text", "font": "Liberation Sans", "fontSize": 14, "color": "black"},
       "encoding": {"x": {"datum": 1.23, "type": "quantitative", "axis": null}, "y": {"datum": -6.04, "type": "quantitative", "axis": null}, "text": {"field": "k", "type": "nominal"}}}
     ]}
   ]}
 ]},
 {"spacing": 15, "hconcat": [
  {"title": {"text": "D", "orient": "left", "anchor": "end", "frame": "bounds", "angle": 0, "align": "left", "baseline": "top", "fontSize": 24, "fontWeight": "bold", "color": "black", "font": "Liberation Sans", "offset": -14},
   "spacing": 12,
   "vconcat": [
    {"title": {"text": "M5", "subtitle": "\u00b9MSNAAAAANNN\u0332P\u0332Y\u0332A\u0332E\u00b9\u2075", "font": "Liberation Sans", "fontSize": 19, "fontWeight": "normal", "color": "black", "subtitleFont": "Liberation Sans", "subtitleFontSize": 16, "subtitleColor": "#8a8a8a", "subtitlePadding": 1, "anchor": "middle", "offset": 6, "dx": -9},
     "width": 178, "height": 119, "data": {"name": "tD"},
     "resolve": {"axis": {"x": "independent", "y": "independent"}},
     "layer": [
      {"mark": {"type": "line", "color": "black", "strokeWidth": 1},
       "encoding": {
        "x": {"field": "t", "type": "quantitative", "scale": {"domain": [0, 51.5], "nice": false, "zero": false}, "axis": {"title": "Time (min)", "values": [0,5,10,15,20,25,30,35,40,45,50], "labelExpr": "'' + datum.value", "tickSize": 4}},
        "y": {"field": "v", "type": "quantitative", "scale": {"domain": [-1.225, 0.27], "nice": false, "zero": false}, "axis": {"title": "DP (\u00b5W)", "values": [0.2,0,-0.2,-0.4,-0.6,-0.8,-1,-1.2], "labelExpr": "'' + datum.value", "tickSize": 4}}}},
      {"mark": {"type": "line", "color": "black", "opacity": 0},
       "encoding": {
        "x": {"field": "t", "type": "quantitative", "axis": {"orient": "bottom", "title": null, "labels": false, "domain": false, "values": [2.5,7.5,12.5,17.5,22.5,27.5,32.5,37.5,42.5,47.5], "tickSize": 2.5}},
        "y": {"field": "v", "type": "quantitative", "axis": {"orient": "left", "title": null, "labels": false, "domain": false, "values": [0.1,-0.1,-0.3,-0.5,-0.7,-0.9,-1.1], "tickSize": 2.5}}}}
     ]},
    {"width": 178, "height": 118,
     "resolve": {"axis": {"x": "independent", "y": "independent"}},
     "layer": [
      {"data": {"name": "cD"}, "mark": {"type": "line", "color": "black", "strokeWidth": 1.2},
       "encoding": {
        "x": {"field": "x", "type": "quantitative", "scale": {"domain": [0, 2.01], "nice": false, "zero": false}, "axis": {"title": "Molar Ratio", "values": [0,0.2,0.4,0.6,0.8,1,1.2,1.4,1.6,1.8], "labelExpr": "'' + datum.value", "tickSize": 4}},
        "y": {"field": "y", "type": "quantitative", "scale": {"domain": [-16.4, -4.1], "nice": false, "zero": false}, "axis": {"title": "\u0394H (kJ/mol)", "values": [-6,-8,-10,-12,-14,-16], "labelExpr": "'' + datum.value", "tickSize": 4}}}},
      {"data": {"name": "pD"}, "mark": {"type": "circle", "color": "black", "size": 12, "opacity": 1},
       "encoding": {
        "x": {"field": "x", "type": "quantitative", "axis": {"orient": "bottom", "title": null, "labels": false, "domain": false, "values": [0.1,0.3,0.5,0.7,0.9,1.1,1.3,1.5,1.7,1.9], "tickSize": 2.5}},
        "y": {"field": "y", "type": "quantitative", "axis": {"orient": "left", "title": null, "labels": false, "domain": false, "values": [-5,-7,-9,-11,-13,-15], "tickSize": 2.5}}}},
      {"data": {"values": [{"k": "Kd: 34.9 \u00b1 28.8 \u00b5M"}]}, "mark": {"type": "text", "font": "Liberation Sans", "fontSize": 14, "color": "black"},
       "encoding": {"x": {"datum": 1.28, "type": "quantitative", "axis": null}, "y": {"datum": -14.1, "type": "quantitative", "axis": null}, "text": {"field": "k", "type": "nominal"}}}
     ]}
   ]},
  {"title": {"text": "E", "orient": "left", "anchor": "end", "frame": "bounds", "angle": 0, "align": "left", "baseline": "top", "fontSize": 24, "fontWeight": "bold", "color": "black", "font": "Liberation Sans", "offset": -14},
   "spacing": 12,
   "vconcat": [
    {"title": {"text": "M6", "subtitle": "\u00b9MSNAN\u0332P\u0332Y\u0332E\u0332NNAAAAE\u00b9\u2075", "font": "Liberation Sans", "fontSize": 19, "fontWeight": "normal", "color": "black", "subtitleFont": "Liberation Sans", "subtitleFontSize": 16, "subtitleColor": "#8a8a8a", "subtitlePadding": 1, "anchor": "middle", "offset": 6, "dx": -7},
     "width": 178, "height": 119, "data": {"name": "tE"},
     "resolve": {"axis": {"x": "independent", "y": "independent"}},
     "layer": [
      {"mark": {"type": "line", "color": "black", "strokeWidth": 1},
       "encoding": {
        "x": {"field": "t", "type": "quantitative", "scale": {"domain": [0, 51.5], "nice": false, "zero": false}, "axis": {"title": "Time (min)", "values": [0,5,10,15,20,25,30,35,40,45,50], "labelExpr": "'' + datum.value", "tickSize": 4}},
        "y": {"field": "v", "type": "quantitative", "scale": {"domain": [-30.4, 1.5], "nice": false, "zero": false}, "axis": {"title": "DP (\u00b5W)", "values": [0,-5,-10,-15,-20,-25,-30], "labelExpr": "'' + datum.value", "tickSize": 4}}}},
      {"mark": {"type": "line", "color": "black", "opacity": 0},
       "encoding": {
        "x": {"field": "t", "type": "quantitative", "axis": {"orient": "bottom", "title": null, "labels": false, "domain": false, "values": [2.5,7.5,12.5,17.5,22.5,27.5,32.5,37.5,42.5,47.5], "tickSize": 2.5}},
        "y": {"field": "v", "type": "quantitative", "axis": {"orient": "left", "title": null, "labels": false, "domain": false, "values": [-2.5,-7.5,-12.5,-17.5,-22.5,-27.5], "tickSize": 2.5}}}}
     ]},
    {"width": 178, "height": 118,
     "resolve": {"axis": {"x": "independent", "y": "independent"}},
     "layer": [
      {"data": {"name": "cE"}, "mark": {"type": "line", "color": "black", "strokeWidth": 1.2},
       "encoding": {
        "x": {"field": "x", "type": "quantitative", "scale": {"domain": [0, 12.9], "nice": false, "zero": false}, "axis": {"title": "Molar Ratio", "values": [0,2,4,6,8,10,12], "labelExpr": "'' + datum.value", "tickSize": 4}},
        "y": {"field": "y", "type": "quantitative", "scale": {"domain": [-43.2, -25.3], "nice": false, "zero": false}, "axis": {"title": "\u0394H (kJ/mol)", "values": [-26,-28,-30,-32,-34,-36,-38,-40,-42], "labelExpr": "'' + datum.value", "tickSize": 4}}}},
      {"data": {"name": "pE"}, "mark": {"type": "circle", "color": "black", "size": 12, "opacity": 1},
       "encoding": {
        "x": {"field": "x", "type": "quantitative", "axis": {"orient": "bottom", "title": null, "labels": false, "domain": false, "values": [1,3,5,7,9,11], "tickSize": 2.5}},
        "y": {"field": "y", "type": "quantitative", "axis": {"orient": "left", "title": null, "labels": false, "domain": false, "values": [-27,-29,-31,-33,-35,-37,-39,-41,-43], "tickSize": 2.5}}}},
      {"data": {"values": [{"k": "Kd: 188 \u00b1 155 \u00b5M*"}]}, "mark": {"type": "text", "font": "Liberation Sans", "fontSize": 14, "color": "black"},
       "encoding": {"x": {"datum": 7.65, "type": "quantitative", "axis": null}, "y": {"datum": -40.0, "type": "quantitative", "axis": null}, "text": {"field": "k", "type": "nominal"}}}
     ]}
   ]},
  {"title": {"text": "F", "orient": "left", "anchor": "end", "frame": "bounds", "angle": 0, "align": "left", "baseline": "top", "fontSize": 24, "fontWeight": "bold", "color": "black", "font": "Liberation Sans", "offset": -14},
   "spacing": 12,
   "vconcat": [
    {"title": {"text": "M7", "subtitle": "\u00b9MSNAAAAANNAAAAE\u00b9\u2075", "font": "Liberation Sans", "fontSize": 19, "fontWeight": "normal", "color": "black", "subtitleFont": "Liberation Sans", "subtitleFontSize": 16, "subtitleColor": "#8a8a8a", "subtitlePadding": 1, "anchor": "middle", "offset": 6, "dx": -9},
     "width": 178, "height": 119, "data": {"name": "tF"},
     "resolve": {"axis": {"x": "independent", "y": "independent"}},
     "layer": [
      {"mark": {"type": "line", "color": "black", "strokeWidth": 1},
       "encoding": {
        "x": {"field": "t", "type": "quantitative", "scale": {"domain": [0, 51.5], "nice": false, "zero": false}, "axis": {"title": "Time (min)", "values": [0,5,10,15,20,25,30,35,40,45,50], "labelExpr": "'' + datum.value", "tickSize": 4}},
        "y": {"field": "v", "type": "quantitative", "scale": {"domain": [-0.135, 0.135], "nice": false, "zero": false}, "axis": {"title": "DP (\u00b5W)", "values": [0.1,0.05,0,-0.05,-0.1], "labelExpr": "'' + datum.value", "tickSize": 4}}}},
      {"mark": {"type": "line", "color": "black", "opacity": 0},
       "encoding": {
        "x": {"field": "t", "type": "quantitative", "axis": {"orient": "bottom", "title": null, "labels": false, "domain": false, "values": [2.5,7.5,12.5,17.5,22.5,27.5,32.5,37.5,42.5,47.5], "tickSize": 2.5}},
        "y": {"field": "v", "type": "quantitative", "axis": {"orient": "left", "title": null, "labels": false, "domain": false, "values": [0.125,0.075,0.025,-0.025,-0.075,-0.125], "tickSize": 2.5}}}}
     ]},
    {"width": 178, "height": 118, "data": {"name": "pF"},
     "resolve": {"axis": {"x": "independent", "y": "independent"}},
     "layer": [
      {"mark": {"type": "circle", "color": "black", "size": 12, "opacity": 1},
       "encoding": {
        "x": {"field": "x", "type": "quantitative", "scale": {"domain": [0, 2.01], "nice": false, "zero": false}, "axis": {"title": "Molar Ratio", "values": [0,0.2,0.4,0.6,0.8,1,1.2,1.4,1.6,1.8], "labelExpr": "'' + datum.value", "tickSize": 4}},
        "y": {"field": "y", "type": "quantitative", "scale": {"domain": [-0.64, 0.8], "nice": false, "zero": false}, "axis": {"title": "\u0394H (kJ/mol)", "values": [0.6,0.4,0.2,0,-0.2,-0.4,-0.6], "labelExpr": "'' + datum.value", "tickSize": 4}}}},
      {"mark": {"type": "circle", "color": "black", "size": 12, "opacity": 0},
       "encoding": {
        "x": {"field": "x", "type": "quantitative", "axis": {"orient": "bottom", "title": null, "labels": false, "domain": false, "values": [0.1,0.3,0.5,0.7,0.9,1.1,1.3,1.5,1.7,1.9], "tickSize": 2.5}},
        "y": {"field": "y", "type": "quantitative", "axis": {"orient": "left", "title": null, "labels": false, "domain": false, "values": [0.7,0.5,0.3,0.1,-0.1,-0.3,-0.5], "tickSize": 2.5}}}}
     ]}
   ]}
 ]}
]
}
